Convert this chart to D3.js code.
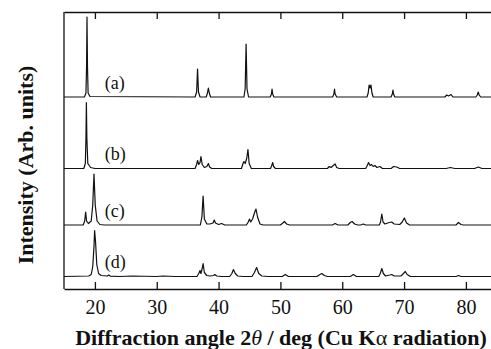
<!DOCTYPE html>
<html>
<head>
<meta charset="utf-8">
<script src="https://cdnjs.cloudflare.com/ajax/libs/d3/7.8.5/d3.min.js"></script>
<style>
  html, body { margin: 0; padding: 0; background: #fff; }
  svg { display: block; }
</style>
</head>
<body>
<div id="chart"></div>
<script>
// 2theta / deg, intensity (arb. units)
const seriesA = [
  [15, 0], [18.3, 0], [18.55, 4], [18.65, 30], [18.72, 80], [18.8, 30], [18.9, 4], [19.2, 0.5],
  [36.2, 0], [36.45, 5], [36.6, 28], [36.75, 5], [37.0, 0],
  [38.0, 0], [38.2, 4], [38.35, 9], [38.5, 4], [38.7, 0],
  [44.1, 0], [44.3, 8], [44.45, 53], [44.6, 8], [44.85, 0],
  [48.35, 0], [48.55, 3], [48.65, 8], [48.75, 3], [48.95, 0],
  [58.45, 0], [58.65, 3], [58.75, 8], [58.85, 3], [59.1, 0],
  [64.0, 0], [64.2, 4], [64.35, 12], [64.5, 9], [64.65, 12], [64.8, 4], [65.0, 0],
  [67.9, 0], [68.1, 3], [68.2, 7], [68.3, 3], [68.5, 0],
  [76.6, 0], [76.9, 2], [77.2, 1], [77.6, 2.5], [77.9, 0],
  [81.6, 0], [81.85, 2], [82.0, 5], [82.15, 2], [82.4, 0],
  [84.06, 0]
];
const seriesB = [
  [15, 0], [18.2, 0], [18.45, 5], [18.55, 30], [18.62, 66], [18.7, 30], [18.85, 5], [19.3, 1], [20, 0],
  [36.2, 0], [36.45, 4], [36.6, 8], [36.8, 4], [37.0, 6], [37.15, 12], [37.35, 4], [37.7, 1], [38.1, 2], [38.35, 5], [38.55, 1.5], [38.9, 0],
  [43.7, 0], [43.95, 5], [44.1, 7], [44.3, 5], [44.55, 10], [44.75, 19], [44.95, 5], [45.3, 0],
  [48.4, 0], [48.6, 3], [48.75, 6], [48.9, 2], [49.2, 0],
  [57.6, 0], [57.9, 2], [58.2, 1], [58.55, 3], [58.85, 4.5], [59.1, 1], [59.5, 0],
  [63.8, 0], [64.05, 3], [64.25, 6], [64.5, 3], [64.75, 4], [65.0, 2], [65.3, 3], [65.6, 1], [66.1, 2], [66.5, 0],
  [67.9, 0], [68.3, 2], [68.8, 1.5], [69.3, 0],
  [76.8, 0], [77.5, 1], [78.2, 0],
  [81.4, 0], [82.0, 1.5], [82.6, 0],
  [84.06, 0]
];
const seriesC = [
  [15, 0], [18.1, 0], [18.35, 4], [18.5, 13], [18.65, 4], [18.95, 1.5], [19.4, 4], [19.65, 20], [19.85, 51], [20.05, 20], [20.35, 4], [20.8, 0.5], [21.5, 0],
  [37.05, 0], [37.3, 8], [37.5, 29], [37.7, 6], [38.1, 1], [38.6, 1], [39.1, 2], [39.3, 5], [39.5, 2], [40.0, 0.5], [40.5, 1.5], [41.0, 0],
  [44.5, 0], [44.8, 3], [45.0, 6], [45.2, 3], [45.5, 6], [45.8, 12], [46.05, 16], [46.3, 8], [46.7, 1], [47.2, 0],
  [50.0, 0], [50.4, 2], [50.65, 3.5], [51.0, 1], [51.5, 0],
  [58.4, 0], [58.85, 1.5], [59.3, 0],
  [60.9, 0], [61.3, 2.5], [61.6, 3.5], [62.0, 1], [62.5, 0],
  [63.0, 0], [63.4, 1], [63.8, 0],
  [66.0, 0], [66.2, 3], [66.4, 11], [66.6, 3], [66.9, 1], [67.6, 2.5], [68.0, 3], [68.4, 1], [69.3, 0.5], [69.7, 3], [70.05, 7], [70.4, 2], [70.9, 0],
  [78.4, 0], [78.8, 2.5], [79.2, 0.5], [79.6, 0],
  [84.06, 0]
];
const seriesD = [
  [15, 0], [19.0, 0.5], [19.4, 2], [19.65, 10], [19.85, 30], [19.95, 46], [20.1, 35], [20.3, 12], [20.6, 3], [21.0, 1], [22.0, 0.5], [22.25, 1.5], [22.5, 0.3],
  [24, 0], [26, 0.5], [30, 0], [31, 0.5], [33, 0],
  [36.5, 0], [36.8, 3], [37.0, 6], [37.15, 3], [37.35, 8], [37.5, 13], [37.7, 4], [38.1, 1], [38.6, 0.5], [39.2, 1], [39.4, 2], [39.7, 0.5], [40.5, 0],
  [41.8, 0], [42.15, 3], [42.4, 7], [42.7, 3], [43.1, 0.5], [44.0, 0],
  [45.4, 0], [45.8, 4], [46.15, 9], [46.5, 3], [47.0, 0.5], [48, 0],
  [50.3, 0], [50.8, 2], [51.3, 0],
  [55.9, 0], [56.4, 2], [56.7, 3], [57.1, 1], [57.6, 0],
  [61.3, 0], [61.8, 2], [62.3, 0],
  [65.9, 0], [66.15, 3], [66.4, 8], [66.65, 3], [67.0, 0.5], [67.7, 1.5], [68.0, 2], [68.4, 0.5], [69.5, 0.5], [69.9, 3], [70.2, 5], [70.5, 2], [71.0, 0],
  [78.4, 0], [78.8, 1], [79.2, 0],
  [84.06, 0]
];
const seriesNames = ['(a)', '(b)', '(c)', '(d)'];
const seriesOffsets = [192, 120.5, 64, 12.5];
const xTicks = [20, 30, 40, 50, 60, 70, 80];

const SERIF = '"Liberation Serif", "Times New Roman", Times, serif';
const W = 491, H = 349;
const margin = {top: 12, right: 0, bottom: 60, left: 64};
const width = W - margin.left - margin.right;
const height = H - margin.top - margin.bottom;

const x = d3.scaleLinear().domain([15, 84.06]).range([0, width]);
const y = d3.scaleLinear().domain([0, 277]).range([height, 0]);

const svg = d3.select('#chart').append('svg')
  .attr('width', W)
  .attr('height', H)
  .attr('viewBox', `0 0 ${W} ${H}`)
  .style('font-family', SERIF);

const chart = svg.append('g')
  .attr('transform', `translate(${margin.left},${margin.top})`);

// -- traces
const line = d3.line()
  .x(d => x(d[0]))
  .y(d => y(d[1]));

const traces = [seriesA, seriesB, seriesC, seriesD].map((s, i) => ({
  name: seriesNames[i],
  values: s.map(p => [p[0], p[1] + seriesOffsets[i]])
}));

chart.append('g').attr('class', 'lines')
  .selectAll('path')
  .data(traces).enter()
  .append('path')
  .attr('d', d => line(d.values))
  .attr('fill', 'none')
  .attr('stroke', '#111')
  .attr('stroke-width', 1.2)
  .attr('stroke-linejoin', 'round');

chart.append('g')
  .selectAll('text')
  .data(traces).enter()
  .append('text')
  .attr('x', x(21.6))
  .attr('y', (d, i) => y(seriesOffsets[i] + 8.5))
  .style('font-family', SERIF)
  .style('font-size', '18px')
  .attr('fill', '#111')
  .text(d => d.name);

// -- axes
const xAxisBottom = d3.axisBottom(x)
  .tickValues(xTicks)
  .tickSizeInner(-7)
  .tickSizeOuter(0);

const xAxisTop = d3.axisTop(x)
  .tickValues(xTicks)
  .tickSizeInner(-7)
  .tickSizeOuter(0)
  .tickFormat('');

const gx = chart.append('g')
  .attr('transform', `translate(0,${height})`)
  .call(xAxisBottom)
  .attr('font-family', null)
  .attr('font-size', null);
gx.selectAll('.tick text')
  .attr('dy', null)
  .attr('y', 25)
  .attr('fill', '#111')
  .style('font-family', SERIF)
  .style('font-size', '20px');

chart.append('g').call(xAxisTop);

chart.append('line')
  .attr('x1', 0).attr('x2', 0)
  .attr('y1', 0).attr('y2', height);

chart.selectAll('.domain, .tick line, line')
  .attr('stroke', '#111')
  .attr('stroke-width', 1.3);

// -- titles
const xt = svg.append('text')
  .attr('x', 281)
  .attr('y', 345)
  .attr('text-anchor', 'middle')
  .attr('fill', '#111')
  .style('font-family', SERIF)
  .style('font-size', '22px')
  .style('font-weight', 'bold');
xt.append('tspan').text('Diffraction angle 2');
xt.append('tspan').style('font-style', 'italic').style('font-weight', 'normal').text('θ');
xt.append('tspan').text('  / deg (Cu K');
xt.append('tspan').style('font-weight', 'normal').text('α');
xt.append('tspan').text(' radiation)');

svg.append('text')
  .attr('transform', 'translate(33,165) rotate(-90)')
  .attr('text-anchor', 'middle')
  .attr('fill', '#111')
  .style('font-family', SERIF)
  .style('font-size', '22px')
  .style('font-weight', 'bold')
  .text('Intensity (Arb. units)');
</script>
</body>
</html>
